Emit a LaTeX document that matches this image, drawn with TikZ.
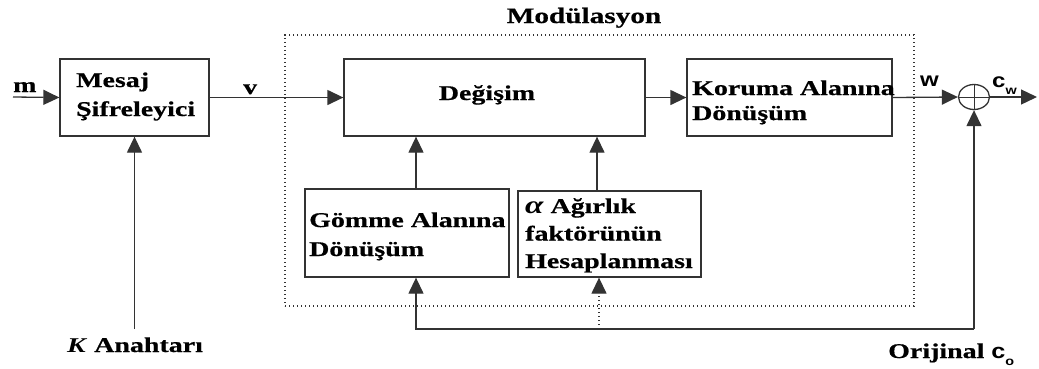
\documentclass[tikz,border=0pt]{standalone}
\usepackage{fontspec}
\setmainfont[FakeStretch=1.33,BoldFeatures={FakeBold=0.6}]{Liberation Serif}
\newfontfamily\lblsans[FakeStretch=1.2]{Liberation Sans}
\usetikzlibrary{arrows.meta,shapes.geometric}
\definecolor{lin}{HTML}{333333}
\begin{document}
\begin{tikzpicture}[x=1pt,y=-1pt,
  ln/.style={draw=lin, line width=1.3pt},
  arr/.style={ln, -{Triangle[length=16pt,width=15pt]}},
  dotln/.style={dash pattern=on 1.3pt off 2.7pt},
  box/.style={draw=lin, line width=1.3pt, inner sep=0pt},
  txt/.style={inner sep=0pt, anchor=base west, align=left, text width=#1,
     font=\fontsize{21}{29}\selectfont\bfseries},
  lbl/.style={inner sep=0pt, anchor=base west, font=\fontsize{21}{24}\selectfont\bfseries}
]
\useasboundingbox (0,0) rectangle (1039,368);
% boxes
\node[box, minimum width=149pt, minimum height=77pt] (mesaj) at (134.5,97.5) {};
\node[box, minimum width=301pt, minimum height=77pt] (degisim) at (494.5,97.5) {};
\node[box, minimum width=205pt, minimum height=77pt] (koruma) at (789.5,97.5) {};
\node[box, minimum width=204pt, minimum height=88pt] (gomme) at (407,233) {};
\node[box, minimum width=183pt, minimum height=86pt] (agirlik) at (609.5,234) {};
\node[draw=lin, line width=1.3pt, dotln, minimum width=629pt, minimum height=271pt, inner sep=0pt] (mod) at (599.5,170.5) {};
\node[ellipse, draw=lin, line width=1.3pt, minimum width=31pt, minimum height=25pt, inner sep=0pt] (sum) at (974,97) {};
\draw[draw=lin, line width=1pt] (sum.west) -- (sum.east) (sum.north) -- (sum.south);
% texts
\node[txt=120pt] (mesajT) at (76,87) {Mesaj\\Şifreleyici};
\node[inner sep=0pt, anchor=base, font=\fontsize{21}{29}\selectfont\bfseries] (degisimT) at (487,100) {Değişim};
\node[txt=260pt] (korumaT) at (692,95) {Koruma Alanına\\[-4pt]Dönüşüm};
\node[txt=240pt] (gommeT) at (309,227) {Gömme Alanına\\Dönüşüm};
\node[txt=220pt] (agirlikT) at (525,213) {{\fontsize{25}{29}\selectfont\itshape α} Ağırlık\\[-1.5pt]faktörünün\\[-1.5pt]Hesaplanması};
\node[inner sep=0pt, anchor=base, font=\fontsize{22}{25}\selectfont\bfseries] (modT) at (584,23) {Modülasyon};
\node[lbl] (mT) at (13,92) {m};
\node[lbl] (vT) at (243,94) {v};
\node[lbl, font=\fontsize{20}{24}\selectfont\lblsans\bfseries] (wT) at (920,86) {w};
\node[lbl, font=\fontsize{20}{24}\selectfont\lblsans\bfseries] (cwT) at (992,87) {c\raisebox{-7pt}{\fontsize{12}{12}\selectfont w}};
\node[inner sep=0pt, anchor=base, font=\fontsize{21}{24}\selectfont\bfseries] (kT) at (135,352) {\textit{K} Anahtarı};
\node[lbl] (coT) at (888,358) {Orijinal {\lblsans c\raisebox{-7pt}{\fontsize{12}{12}\selectfont o}}};
% connectors
\coordinate (mstart) at (13,97);
\coordinate (cwout) at (1037,97);
\coordinate (kin) at (134.5,329);
\coordinate (co) at (974,329);
\coordinate (split) at (599,329);
\draw[arr] (mstart) -- (mesaj.west);
\draw[arr] (mesaj.east) -- (degisim.west);
\draw[arr] (degisim.east) -- (koruma.west);
\draw[arr] (koruma.east) -- (sum.west);
\draw[arr] (sum.east) -- (cwout);
\draw[arr] (kin) -- (mesaj.south);
\draw[arr] (co) -- (sum.south);
\draw[arr] (co) -| ([xshift=9pt]gomme.south);
\draw[arr, dotln] (split) -- ([xshift=-10.5pt]agirlik.south);
\draw[arr] ([xshift=9pt]gomme.north) -- ([xshift=9pt]gomme.north |- degisim.south);
\draw[arr] ([xshift=-12.5pt]agirlik.north) -- ([xshift=-12.5pt]agirlik.north |- degisim.south);
\end{tikzpicture}
\end{document}
